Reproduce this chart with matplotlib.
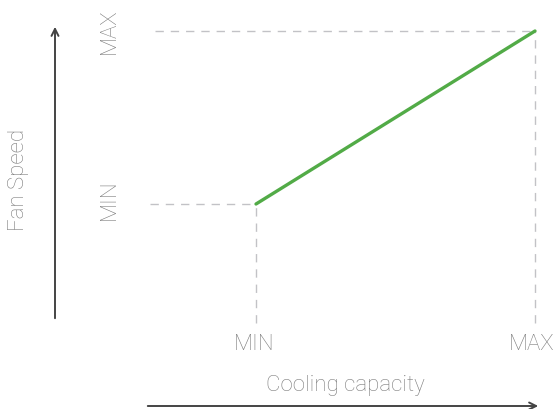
#!/usr/bin/env python3
import matplotlib
matplotlib.use("Agg")
import matplotlib.pyplot as plt

# chart values
levels = ["MIN", "MAX"]
capacity = [0.0, 1.0]
fan_speed = [0.0, 1.0]

x_title = "Cooling capacity"
y_title = "Fan Speed"

W, H = 557, 409


def fx(px):
    return px / W


def fy(py):
    return 1 - py / H


def main():
    plt.rcParams["font.family"] = ["Roboto", "DejaVu Sans"]
    fig = plt.figure(figsize=(W / 100, H / 100), dpi=100)
    ax = fig.add_axes([0, 0, 1, 1])
    # MIN -> px 256 / 204, MAX -> px 535 / 31
    sx, sy = 535 - 256, 204 - 31
    ax.set_xlim(-256 / sx, (W - 256) / sx)
    ax.set_ylim(-(H - 204) / sy, 1 + 31 / sy)
    ax.axis("off")

    grid = dict(color="#c2c2c6", lw=1.0, dashes=(6, 5))
    left = [-(256 - 150) / sx, -(256 - 155) / sx]
    bottom = -(323 - 204) / sy
    for i in range(2):
        ax.plot([left[i], capacity[i]], [fan_speed[i], fan_speed[i]], **grid)
        ax.plot([capacity[i], capacity[i]], [bottom, fan_speed[i]], **grid)

    ax.plot(capacity, fan_speed, color="#52ab47", lw=2.4, solid_capstyle="round")

    txt = dict(color="#7c7c7c", fontsize=16, fontweight="light")
    ax.text(capacity[0] - 2 / sx, -(345 - 204) / sy, levels[0], ha="center", va="center", **txt)
    ax.text(1 - 3 / sx, -(345 - 204) / sy, levels[1], ha="center", va="center", **txt)
    ax.text(-(256 - 109) / sx, fan_speed[0] + 4 / sy, levels[0], rotation=90,
            ha="center", va="center", **txt)
    ax.text(-(256 - 109) / sx, fan_speed[1], levels[1], rotation=90,
            ha="center", va="center", **txt)

    fig.text(fx(345), fy(386), x_title, ha="center", va="center", **txt)
    fig.text(fx(19), fy(180), y_title, rotation=90, ha="center", va="center", **txt)

    arrow = dict(arrowstyle="->,head_length=0.5,head_width=0.25", color="#444444", lw=1.4)
    ax.annotate("", xy=(fx(55), fy(24)), xytext=(fx(55), fy(321)),
                xycoords="figure fraction", textcoords="figure fraction", arrowprops=arrow)
    ax.annotate("", xy=(fx(541), fy(406)), xytext=(fx(145), fy(406)),
                xycoords="figure fraction", textcoords="figure fraction", arrowprops=arrow)

    fig.savefig("out.png", dpi=100)


if __name__ == "__main__":
    main()
